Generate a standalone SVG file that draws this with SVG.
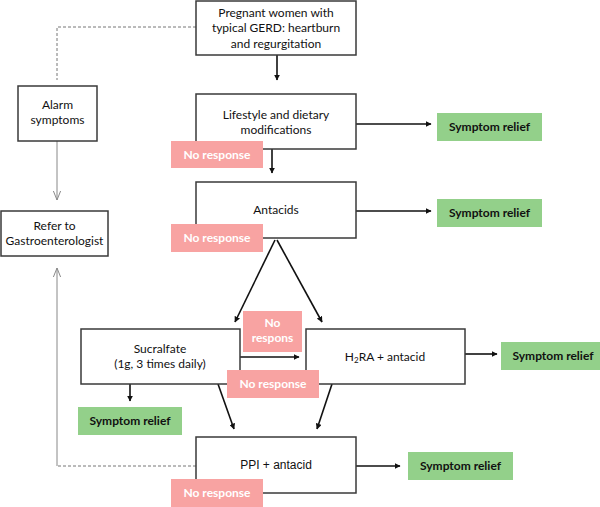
<svg xmlns="http://www.w3.org/2000/svg" width="600" height="507" viewBox="0 0 600 507">
<defs>
<style>
.box{fill:#fff;stroke:#3a3a3a;stroke-width:1.5}
.t{font-family:Lato,"Open Sans",sans-serif;font-size:12px;fill:#111;text-anchor:middle}
.ta{font-family:"Liberation Sans",Arial,sans-serif;font-size:12px;fill:#111;text-anchor:middle}
.green{fill:#93d08a}
.pink{fill:#f8a3a2}
.gt{font-family:Lato,"Open Sans",sans-serif;font-size:12px;font-weight:bold;fill:#111;text-anchor:middle}
.pt{font-family:Lato,"Open Sans",sans-serif;font-size:12px;font-weight:bold;fill:#fff;text-anchor:middle}
.arr{stroke:#111;stroke-width:1.6;fill:none;marker-end:url(#ah)}
.gray{stroke:#888;stroke-width:1;fill:none}
.dash{stroke:#777;stroke-width:1;fill:none;stroke-dasharray:3,2}
</style>
<marker id="ah" viewBox="0 0 10 10" refX="9" refY="5" markerWidth="6" markerHeight="6" markerUnits="userSpaceOnUse" orient="auto">
<path d="M0,0 L10,5 L0,10 z" fill="#111"/>
</marker>
<marker id="oh" viewBox="0 0 10 10" refX="10" refY="5" markerWidth="9" markerHeight="9" markerUnits="userSpaceOnUse" orient="auto">
<path d="M0,1 L10,5 L0,9" fill="none" stroke="#888" stroke-width="1.1"/>
</marker>
</defs>
<rect width="600" height="507" fill="#fff"/>
<g id="connectors">
<line class="arr" x1="277" y1="55" x2="277" y2="80"/>
<line class="arr" x1="272" y1="149" x2="272" y2="173"/>
<line class="arr" x1="356" y1="124" x2="431" y2="124"/>
<line class="arr" x1="356" y1="211" x2="431" y2="211"/>
<line class="arr" x1="275" y1="240" x2="235" y2="322"/>
<line class="arr" x1="277" y1="240" x2="322" y2="322"/>
<line class="arr" x1="240" y1="357" x2="299" y2="357"/>
<line class="arr" x1="465" y1="354" x2="497" y2="354"/>
<line class="arr" x1="130" y1="384" x2="130" y2="401"/>
<line class="arr" x1="218" y1="384" x2="234" y2="429"/>
<line class="arr" x1="332" y1="384" x2="317" y2="429"/>
<line class="arr" x1="356" y1="466" x2="400" y2="466"/>
<polyline class="dash" points="196,27 57,27 57,80"/>
<line class="gray" x1="57" y1="141" x2="57" y2="200" marker-end="url(#oh)"/>
<polyline class="dash" points="196,466 57,466"/>
<line class="gray" x1="57" y1="466" x2="57" y2="268" marker-end="url(#oh)"/>
</g>
<g id="start">
<rect class="box" x="196" y="1" width="160" height="54"/>
<text class="t" x="276" y="17">Pregnant women with</text>
<text class="t" x="276" y="32">typical GERD: heartburn</text>
<text class="t" x="276" y="48">and regurgitation</text>
</g>
<g id="lifestyle">
<rect class="box" x="196" y="94" width="160" height="55"/>
<text class="t" x="276" y="119">Lifestyle and dietary</text>
<text class="t" x="276" y="134">modifications</text>
</g>
<g id="nr1">
<rect class="pink" x="171" y="141" width="92" height="27"/>
<text class="pt" x="217" y="159">No response</text>
</g>
<g id="sr1">
<rect class="green" x="437" y="113" width="105" height="28"/>
<text class="gt" x="489.5" y="131">Symptom relief</text>
</g>
<g id="antacids">
<rect class="box" x="196" y="182" width="160" height="56"/>
<text class="t" x="276" y="214">Antacids</text>
</g>
<g id="nr2">
<rect class="pink" x="171" y="224" width="92" height="28"/>
<text class="pt" x="217" y="242">No response</text>
</g>
<g id="sr2">
<rect class="green" x="437" y="199" width="105" height="28"/>
<text class="gt" x="489.5" y="217">Symptom relief</text>
</g>
<g id="sucralfate">
<rect class="box" x="81" y="329" width="159" height="55"/>
<text class="t" x="160" y="353">Sucralfate</text>
<text class="t" x="160" y="368">(1g, 3 times daily)</text>
</g>
<g id="h2ra">
<rect class="box" x="306" y="329" width="159" height="55"/>
<text class="t" x="385" y="361">H<tspan font-size="8" dy="2">2</tspan><tspan dy="-2">RA + antacid</tspan></text>
</g>
<g id="nr3">
<rect class="pink" x="243" y="311" width="59" height="41"/>
<text class="pt" x="272.5" y="327">No</text>
<text class="pt" x="272.5" y="342">respons</text>
</g>
<g id="nr4">
<rect class="pink" x="227" y="370" width="92" height="28"/>
<text class="pt" x="273" y="388">No response</text>
</g>
<g id="sr3">
<rect class="green" x="501" y="342" width="99" height="28"/>
<text class="gt" x="553" y="360">Symptom relief</text>
</g>
<g id="sr4">
<rect class="green" x="78" y="407" width="104" height="28"/>
<text class="gt" x="130" y="425">Symptom relief</text>
</g>
<g id="ppi">
<rect class="box" x="196" y="437" width="160" height="56"/>
<text class="ta" x="276" y="469">PPI + antacid</text>
</g>
<g id="nr5">
<rect class="pink" x="171" y="479" width="92" height="28"/>
<text class="pt" x="217" y="497">No response</text>
</g>
<g id="sr5">
<rect class="green" x="408" y="452" width="105" height="28"/>
<text class="gt" x="460.5" y="470">Symptom relief</text>
</g>
<g id="alarm">
<rect class="box" x="18" y="86" width="79" height="55"/>
<text class="t" x="57.5" y="109">Alarm</text>
<text class="t" x="57.5" y="124">symptoms</text>
</g>
<g id="refer">
<rect class="box" x="1" y="211" width="107" height="45"/>
<text class="t" x="54.5" y="230">Refer to</text>
<text class="t" x="54.5" y="245">Gastroenterologist</text>
</g>
</svg>
